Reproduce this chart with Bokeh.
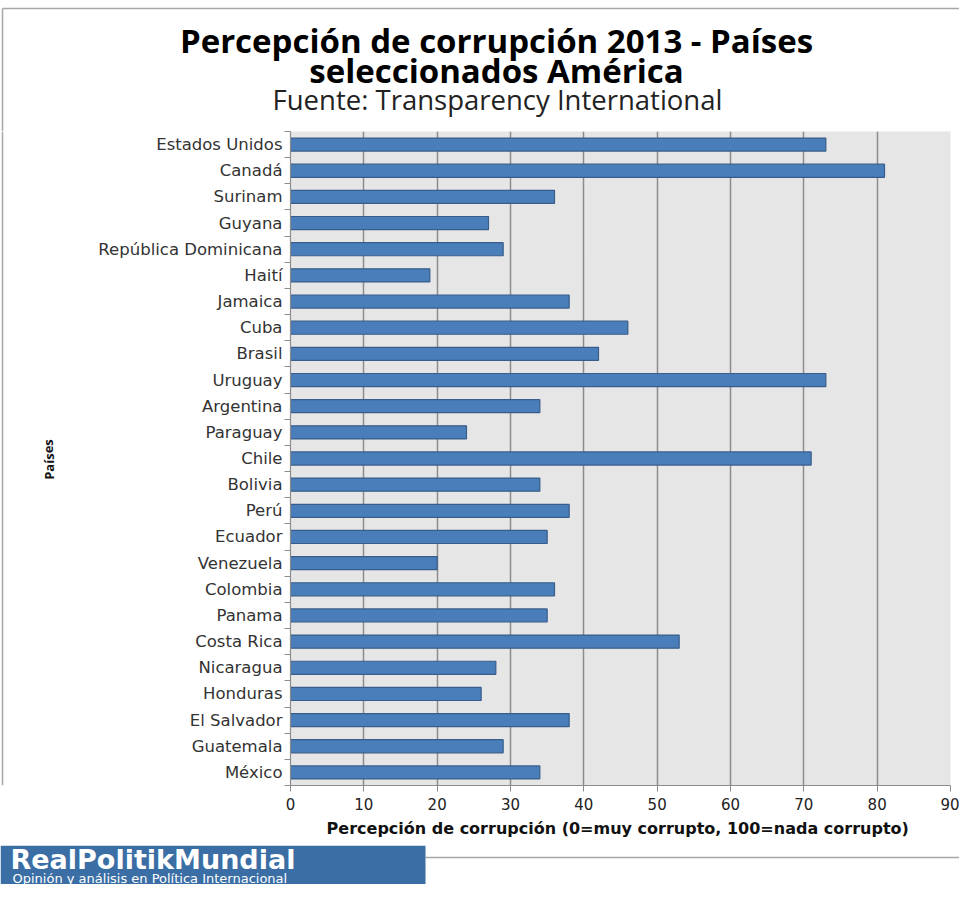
from bokeh.plotting import figure
from bokeh.models import FixedTicker, Label, Range1d
from bokeh.layouts import column, row
from bokeh.embed import file_html
from bokeh.resources import INLINE

# ---- data ----
countries = ["Estados Unidos", "Canadá", "Surinam", "Guyana", "República Dominicana",
             "Haití", "Jamaica", "Cuba", "Brasil", "Uruguay", "Argentina", "Paraguay",
             "Chile", "Bolivia", "Perú", "Ecuador", "Venezuela", "Colombia", "Panama",
             "Costa Rica", "Nicaragua", "Honduras", "El Salvador", "Guatemala", "México"]
scores = [73, 81, 36, 27, 29, 19, 38, 46, 42, 73, 34, 24, 71, 34, 38, 35, 20, 36, 35,
          53, 28, 26, 38, 29, 34]
x_ticks = [0, 10, 20, 30, 40, 50, 60, 70, 80, 90]

title1 = "Percepción de corrupción 2013 - Países"
title2 = "seleccionados América"
subtitle = "Fuente: Transparency International"
x_label = "Percepción de corrupción  (0=muy corrupto, 100=nada corrupto)"
y_label = "Países"
logo_main = "RealPolitikMundial"
logo_sub = "Opinión y análisis en Política Internacional"

# ---- layout (pixel positions as in the reference picture) ----
W, H = 959, 884
HEAD_H = 131          # header strip height (frame top of main chart)
FOOT_Y = 845          # footer strip top
STRIP_W = 60          # left strip holding the y label
FRAME_L, FRAME_R, FRAME_T, FRAME_B = 290, 950, 131, 785
BORDER = "#a6a6a6"


def canvas_fig(x0, y0, w, h, **kw):
    """A figure whose data units are the reference page pixels (y downwards)."""
    f = figure(width=w, height=kw.pop("fig_h", h), output_backend="svg", toolbar_location=None,
               x_range=Range1d(x0, x0 + w), y_range=Range1d(y0 + h, y0),
               min_border=0, x_axis_location=None, y_axis_location=None, **kw)
    f.xgrid.visible = False
    f.ygrid.visible = False
    f.outline_line_color = None
    f.background_fill_color = "white"
    f.border_fill_color = "white"
    return f


# ---------- header ----------
head = canvas_fig(0, 0, W, HEAD_H)
head.segment(x0=[2, 2], y0=[8, 8], x1=[W, 2], y1=[8, HEAD_H], line_color=BORDER, line_width=1.5)
head.add_layout(Label(x=496, y=40, text=title1, text_align="center", text_baseline="middle",
                      text_font="Open Sans", text_font_style="bold", text_font_size="33px",
                      text_color="black"))
head.add_layout(Label(x=496, y=70, text=title2, text_align="center", text_baseline="middle",
                      text_font="Open Sans", text_font_style="bold", text_font_size="33px",
                      text_color="black"))
head.add_layout(Label(x=497, y=99, text=subtitle, text_align="center", text_baseline="middle",
                      text_font="Open Sans", text_font_size="27.5px", text_color="#222222"))

# ---------- left strip (its frame lines up with the chart frame: 131..785) ----------
strip = canvas_fig(0, FRAME_T, STRIP_W, FRAME_B - FRAME_T, fig_h=FOOT_Y - HEAD_H,
                   min_border_bottom=FOOT_Y - FRAME_B)
strip.segment(x0=[2], y0=[FRAME_T], x1=[2], y1=[FRAME_B], line_color=BORDER, line_width=1.5)
strip.add_layout(Label(x=48, y=459, text=y_label, angle=1.5708, text_align="center",
                       text_baseline="middle", text_font="Open Sans", text_font_style="bold",
                       text_font_size="13px", text_color="#111111"))

# ---------- main chart ----------
n = len(countries)
ypos = [n - 1 - i for i in range(n)]
MW = W - STRIP_W
MH = FOOT_Y - HEAD_H

p = figure(width=MW, height=MH, output_backend="svg", toolbar_location=None,
           x_range=Range1d(0, 90), y_range=Range1d(-0.5, n - 0.5),
           min_border_left=FRAME_L - STRIP_W, min_border_right=W - FRAME_R,
           min_border_top=FRAME_T - HEAD_H, min_border_bottom=FOOT_Y - FRAME_B)

p.background_fill_color = "#e6e6e6"
p.border_fill_color = "white"
p.outline_line_color = None

p.hbar(y=ypos, left=0, right=scores, height=0.5,
       fill_color="#4a7ebb", line_color="#385d8a", line_width=1.2)

p.xgrid.ticker = FixedTicker(ticks=x_ticks)
p.xgrid.grid_line_color = "#8c8c8c"
p.xgrid.grid_line_width = 1.5
p.ygrid.grid_line_color = None

xa = p.xaxis[0]
xa.ticker = FixedTicker(ticks=x_ticks)
xa.axis_line_color = "#8c8c8c"
xa.axis_line_width = 1.2
xa.major_tick_line_color = "#8c8c8c"
xa.major_tick_out = 6
xa.major_tick_in = 0
xa.minor_tick_line_color = None
xa.major_label_text_font = "DejaVu Sans"
xa.major_label_text_font_size = "15px"
xa.major_label_text_color = "#222222"
xa.major_label_standoff = 6
xa.axis_label = x_label
xa.axis_label_text_font = "DejaVu Sans"
xa.axis_label_text_font_style = "bold"
xa.axis_label_text_font_size = "16px"
xa.axis_label_text_color = "#111111"
xa.axis_label_standoff = 6

ya = p.yaxis[0]
ya.ticker = FixedTicker(ticks=ypos, minor_ticks=[k - 0.5 for k in range(n + 1)])
ya.major_label_overrides = {y: c for y, c in zip(ypos, countries)}
ya.axis_line_color = "#8c8c8c"
ya.axis_line_width = 1.2
ya.major_tick_out = 0
ya.major_tick_in = 0
ya.major_tick_line_color = None
ya.minor_tick_line_color = "#8c8c8c"
ya.minor_tick_out = 6
ya.minor_tick_in = 0
ya.major_label_text_font = "DejaVu Sans"
ya.major_label_text_font_size = "16.5px"
ya.major_label_text_color = "#333333"
ya.major_label_standoff = 2

# ---------- footer (logo) ----------
foot = canvas_fig(0, FOOT_Y, W, H - FOOT_Y)
foot.segment(x0=[425], y0=[857], x1=[W], y1=[857], line_color=BORDER, line_width=1.5)
foot.quad(left=[0], right=[425], top=[FOOT_Y], bottom=[H], fill_color="#3a6ea5",
          line_color=None)
foot.add_layout(Label(x=10, y=859, text=logo_main, text_align="left", text_baseline="middle",
                      text_font="DejaVu Sans", text_font_style="bold", text_font_size="27px",
                      text_color="white"))
foot.add_layout(Label(x=12, y=877.5, text=logo_sub, text_align="left", text_baseline="middle",
                      text_font="DejaVu Sans", text_font_size="13px", text_color="white"))

layout = column(head, row(strip, p), foot)
open("out.html", "w").write(file_html(layout, INLINE))
